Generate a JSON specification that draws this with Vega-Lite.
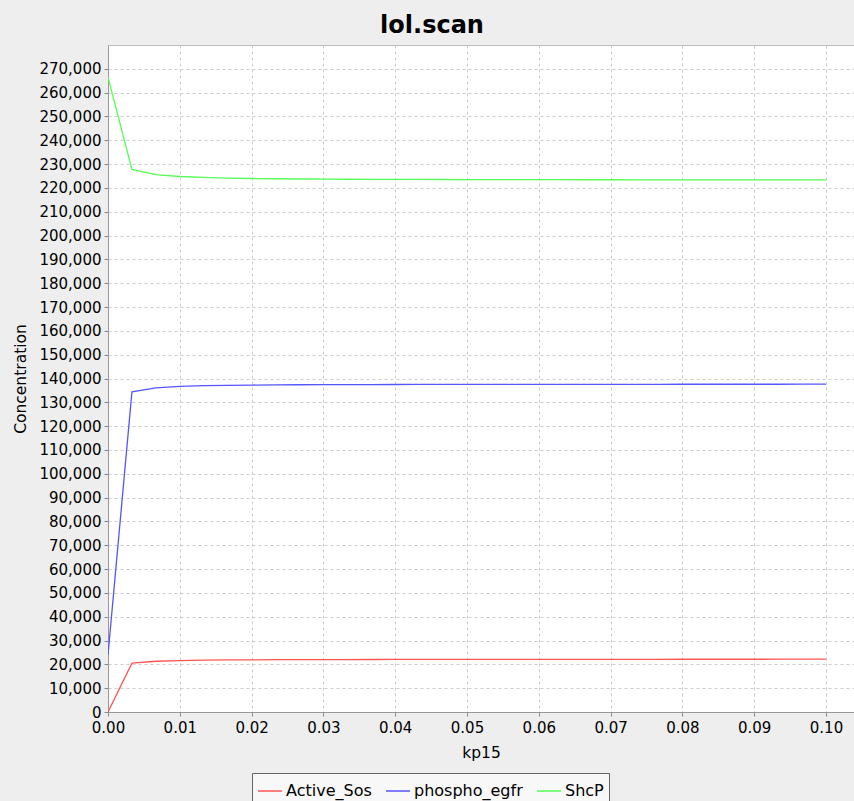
{
  "$schema": "https://vega.github.io/schema/vega-lite/v6.json",
  "width": 746,
  "height": 667,
  "autosize": {"type": "none"},
  "padding": {"left": 108, "top": 45, "right": 0, "bottom": 89},
  "background": "#eeeeee",
  "title": {
    "text": "lol.scan",
    "anchor": "middle",
    "frame": "group",
    "dx": -49,
    "offset": -12,
    "baseline": "alphabetic",
    "font": "DejaVu Sans",
    "fontSize": 24,
    "fontWeight": "bold",
    "color": "#000000"
  },
  "data": {
    "values": [
      {"kp15": 0.0, "Active_Sos": 0, "phospho_egfr": 24000, "ShcP": 266500},
      {"kp15": 0.003333, "Active_Sos": 20500, "phospho_egfr": 134400, "ShcP": 227800},
      {"kp15": 0.006667, "Active_Sos": 21300, "phospho_egfr": 136100, "ShcP": 225600},
      {"kp15": 0.01, "Active_Sos": 21600, "phospho_egfr": 136700, "ShcP": 224800},
      {"kp15": 0.013333, "Active_Sos": 21750, "phospho_egfr": 137000, "ShcP": 224400},
      {"kp15": 0.016667, "Active_Sos": 21850, "phospho_egfr": 137150, "ShcP": 224100},
      {"kp15": 0.02, "Active_Sos": 21900, "phospho_egfr": 137250, "ShcP": 223950},
      {"kp15": 0.023333, "Active_Sos": 21950, "phospho_egfr": 137320, "ShcP": 223850},
      {"kp15": 0.026667, "Active_Sos": 21980, "phospho_egfr": 137370, "ShcP": 223750},
      {"kp15": 0.03, "Active_Sos": 22000, "phospho_egfr": 137410, "ShcP": 223700},
      {"kp15": 0.033333, "Active_Sos": 22020, "phospho_egfr": 137440, "ShcP": 223650},
      {"kp15": 0.036667, "Active_Sos": 22040, "phospho_egfr": 137460, "ShcP": 223600},
      {"kp15": 0.04, "Active_Sos": 22050, "phospho_egfr": 137480, "ShcP": 223580},
      {"kp15": 0.043333, "Active_Sos": 22060, "phospho_egfr": 137500, "ShcP": 223550},
      {"kp15": 0.046667, "Active_Sos": 22070, "phospho_egfr": 137510, "ShcP": 223530},
      {"kp15": 0.05, "Active_Sos": 22080, "phospho_egfr": 137520, "ShcP": 223510},
      {"kp15": 0.053333, "Active_Sos": 22090, "phospho_egfr": 137530, "ShcP": 223490},
      {"kp15": 0.056667, "Active_Sos": 22100, "phospho_egfr": 137540, "ShcP": 223470},
      {"kp15": 0.06, "Active_Sos": 22105, "phospho_egfr": 137550, "ShcP": 223460},
      {"kp15": 0.063333, "Active_Sos": 22110, "phospho_egfr": 137555, "ShcP": 223450},
      {"kp15": 0.066667, "Active_Sos": 22115, "phospho_egfr": 137560, "ShcP": 223440},
      {"kp15": 0.07, "Active_Sos": 22120, "phospho_egfr": 137565, "ShcP": 223430},
      {"kp15": 0.073333, "Active_Sos": 22125, "phospho_egfr": 137570, "ShcP": 223420},
      {"kp15": 0.076667, "Active_Sos": 22130, "phospho_egfr": 137575, "ShcP": 223410},
      {"kp15": 0.08, "Active_Sos": 22135, "phospho_egfr": 137580, "ShcP": 223400},
      {"kp15": 0.083333, "Active_Sos": 22140, "phospho_egfr": 137585, "ShcP": 223400},
      {"kp15": 0.086667, "Active_Sos": 22145, "phospho_egfr": 137590, "ShcP": 223390},
      {"kp15": 0.09, "Active_Sos": 22150, "phospho_egfr": 137592, "ShcP": 223380},
      {"kp15": 0.093333, "Active_Sos": 22155, "phospho_egfr": 137595, "ShcP": 223380},
      {"kp15": 0.096667, "Active_Sos": 22160, "phospho_egfr": 137598, "ShcP": 223370},
      {"kp15": 0.1, "Active_Sos": 22160, "phospho_egfr": 137600, "ShcP": 223370}
    ]
  },
  "transform": [
    {"fold": ["Active_Sos", "phospho_egfr", "ShcP"], "as": ["series", "value"]}
  ],
  "mark": {"type": "line", "strokeWidth": 1.3, "clip": true},
  "encoding": {
    "x": {
      "field": "kp15",
      "type": "quantitative",
      "scale": {"domain": [0, 0.1039], "nice": false, "zero": false},
      "axis": {
        "title": "kp15",
        "values": [0, 0.01, 0.02, 0.03, 0.04, 0.05, 0.06, 0.07, 0.08, 0.09, 0.1],
        "format": ".2f",
        "labelFlush": false,
        "labelPadding": 4,
        "titleY": 40,
        "titleBaseline": "middle"
      }
    },
    "y": {
      "field": "value",
      "type": "quantitative",
      "scale": {"domain": [0, 280000], "nice": false},
      "axis": {
        "title": "Concentration",
        "values": [0, 10000, 20000, 30000, 40000, 50000, 60000, 70000, 80000, 90000, 100000, 110000, 120000, 130000, 140000, 150000, 160000, 170000, 180000, 190000, 200000, 210000, 220000, 230000, 240000, 250000, 260000, 270000],
        "format": ",d",
        "labelFlush": false,
        "titleX": -88,
        "titleBaseline": "middle"
      }
    },
    "color": {
      "field": "series",
      "type": "nominal",
      "scale": {
        "domain": ["Active_Sos", "phospho_egfr", "ShcP"],
        "range": ["#ff5555", "#5555ff", "#55ff55"]
      },
      "legend": {
        "title": null,
        "orient": "none",
        "legendX": 144,
        "legendY": 728,
        "direction": "horizontal",
        "columns": 3,
        "symbolType": "stroke",
        "symbolSize": 576,
        "symbolStrokeWidth": 1.5,
        "labelFontSize": 16,
        "labelFont": "DejaVu Sans",
        "labelColor": "#000000",
        "columnPadding": 11,
        "symbolOffset": 0,
        "labelOffset": 3,
        "padding": 5,
        "strokeColor": "#666666",
        "fillColor": "#f8f8f8",
        "cornerRadius": 0
      }
    }
  },
  "config": {
    "view": {"fill": "white", "stroke": "#bbbbbb"},
    "axis": {
      "labelFont": "DejaVu Sans",
      "labelFontSize": 15,
      "labelColor": "#000000",
      "titleFont": "DejaVu Sans",
      "titleFontSize": 15.5,
      "titleFontWeight": "normal",
      "titleColor": "#000000",
      "domainColor": "#999999",
      "tickColor": "#888888",
      "tickSize": 4,
      "labelPadding": 3,
      "gridColor": "#cccccc",
      "gridDash": [3, 3],
      "gridWidth": 1
    }
  }
}
